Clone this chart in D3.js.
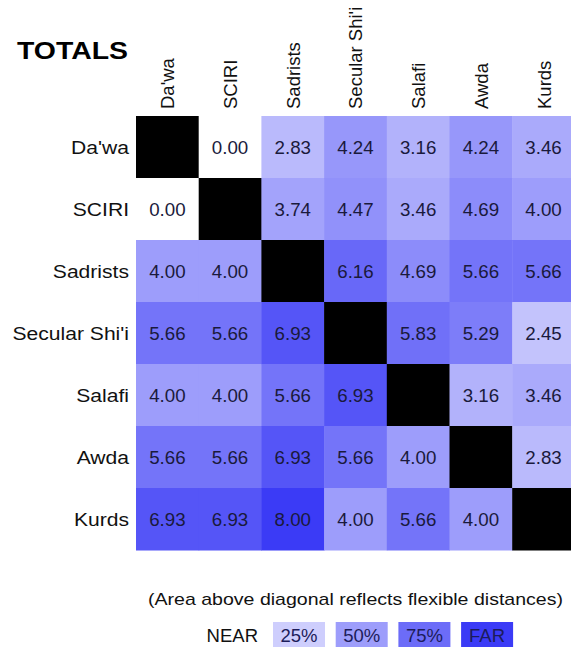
<!DOCTYPE html>
<html><head><meta charset="utf-8">
<script src="https://cdn.jsdelivr.net/npm/d3@7"></script>
<style>html,body{margin:0;padding:0;background:#fff;overflow:hidden}svg{display:block}</style>
</head><body>
<script>
const categories = ["Da'wa", "SCIRI", "Sadrists", "Secular Shi'i", "Salafi", "Awda", "Kurds"];
// row-wise distances (null = diagonal)
const rowDawa    = [null, 0.00, 2.83, 4.24, 3.16, 4.24, 3.46];
const rowSCIRI   = [0.00, null, 3.74, 4.47, 3.46, 4.69, 4.00];
const rowSadr    = [4.00, 4.00, null, 6.16, 4.69, 5.66, 5.66];
const rowSecular = [5.66, 5.66, 6.93, null, 5.83, 5.29, 2.45];
const rowSalafi  = [4.00, 4.00, 5.66, 6.93, null, 3.16, 3.46];
const rowAwda    = [5.66, 5.66, 6.93, 5.66, 4.00, null, 2.83];
const rowKurds   = [6.93, 6.93, 8.00, 4.00, 5.66, 4.00, null];
const rows = [rowDawa, rowSCIRI, rowSadr, rowSecular, rowSalafi, rowAwda, rowKurds];
const legendLabels = ["25%", "50%", "75%", "FAR"];
const legendValues = [2, 4, 6, 8];
const titleText = "TOTALS";
const noteText = "(Area above diagonal reflects flexible distances)";

const W = 571, H = 650;
const svg = d3.select("body").append("svg").attr("width", W).attr("height", H);
const font = "'Liberation Sans', Arial, Helvetica, sans-serif";

const cellW = 62.7;
const x = d3.scaleBand().domain(categories).range([136, 136 + 7 * cellW]).padding(0);
const y = d3.scaleBand().domain(categories).range([116, 550]).padding(0);
const color = d3.scaleLinear().domain([0, 8]).range(["#ffffff", "#3b3bf6"]);

const cells = [];
rows.forEach((r, i) => r.forEach((v, j) => cells.push({row: categories[i], col: categories[j], v})));

const g = svg.append("g");
g.selectAll("rect.cell").data(cells).join("rect")
  .attr("class", "cell")
  .attr("x", d => x(d.col)).attr("y", d => y(d.row))
  .attr("width", x.bandwidth() + 0.5).attr("height", y.bandwidth() + 0.5)
  .attr("fill", d => d.v === null ? "#000" : color(d.v));

g.selectAll("text.val").data(cells.filter(d => d.v !== null)).join("text")
  .attr("class", "val")
  .attr("transform", d => `translate(${x(d.col) + x.bandwidth() / 2},${y(d.row) + y.bandwidth() / 2 + 6.5}) scale(1.04,1)`)
  .attr("text-anchor", "middle")
  .attr("font-family", font).attr("font-size", 18)
  .attr("fill", "#1a1a3c")
  .text(d => d.v.toFixed(2));

// row labels
svg.selectAll("text.rowlab").data(categories).join("text")
  .attr("class", "rowlab")
  .attr("transform", d => `translate(129,${y(d) + y.bandwidth() / 2 + 7}) scale(1.14,1)`)
  .attr("text-anchor", "end")
  .attr("font-family", font).attr("font-size", 18.5).attr("fill", "#111")
  .text(d => d);

// column labels
svg.selectAll("text.collab").data(categories).join("text")
  .attr("class", "collab")
  .attr("transform", d => `translate(${x(d) + x.bandwidth() / 2 + 7},109) rotate(-90)`)
  .attr("text-anchor", "start")
  .attr("font-family", font).attr("font-size", 18.5).attr("fill", "#111")
  .text(d => d);

// title
svg.append("text")
  .attr("x", 17).attr("y", 59)
  .attr("font-family", font).attr("font-size", 23).attr("font-weight", "bold")
  .attr("textLength", 111).attr("lengthAdjust", "spacingAndGlyphs")
  .attr("fill", "#000")
  .text(titleText);

// note
svg.append("text")
  .attr("x", 148).attr("y", 605)
  .attr("font-family", font).attr("font-size", 17).attr("fill", "#111")
  .attr("textLength", 415).attr("lengthAdjust", "spacingAndGlyphs")
  .text(noteText);

// legend
svg.append("text")
  .attr("x", 258).attr("y", 642)
  .attr("text-anchor", "end")
  .attr("font-family", font).attr("font-size", 18.5).attr("fill", "#111")
  .text("NEAR");

const lx = d3.scaleBand().domain(legendLabels).range([273, 273 + 4 * 62.7]).paddingInner(0).paddingOuter(0);
const lg = svg.selectAll("g.leg").data(legendLabels.map((l, i) => ({l, v: legendValues[i]}))).join("g").attr("class", "leg");
lg.append("rect")
  .attr("x", d => lx(d.l)).attr("y", 622)
  .attr("width", 52).attr("height", 25)
  .attr("fill", d => color(d.v));
lg.append("text")
  .attr("x", d => lx(d.l) + 26).attr("y", 642)
  .attr("text-anchor", "middle")
  .attr("font-family", font).attr("font-size", 18.5).attr("fill", "#1c1c5a")
  .text(d => d.l);
</script>
</body></html>
